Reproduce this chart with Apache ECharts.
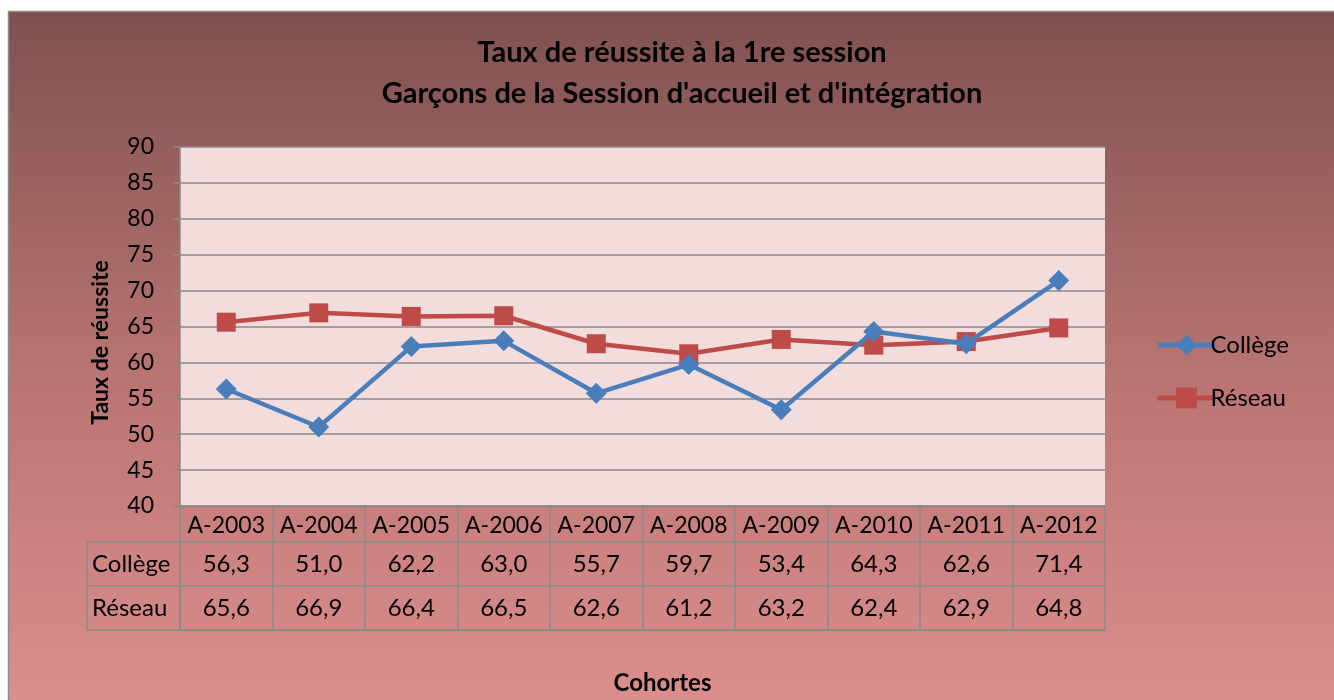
<!DOCTYPE html>
<html><head><meta charset="utf-8">
<script src="https://cdn.jsdelivr.net/npm/echarts@6/dist/echarts.min.js"></script>
<style>html,body{margin:0;padding:0;background:#fff}#c{width:1334px;height:700px}</style>
</head><body><div id="c"></div>
<script>
const categories = ['A-2003','A-2004','A-2005','A-2006','A-2007','A-2008','A-2009','A-2010','A-2011','A-2012'];
const college = [56.3, 51.0, 62.2, 63.0, 55.7, 59.7, 53.4, 64.3, 62.6, 71.4];
const reseau  = [65.6, 66.9, 66.4, 66.5, 62.6, 61.2, 63.2, 62.4, 62.9, 64.8];
const seriesNames = ['Collège', 'Réseau'];
const titleLines = ['Taux de réussite à la 1re session', "Garçons de la Session d'accueil et d'intégration"];
const yName = 'Taux de réussite';
const xName = 'Cohortes';

const FONT = 'Lato, "Open Sans", sans-serif';
const GRIDC = '#8a8a8a';
const fmt = v => v.toFixed(1).replace('.', ',');

const tableData = [];
[college, reseau].forEach((arr, r) => arr.forEach((v, i) => tableData.push([i, seriesNames[r], v])));

const chart = echarts.init(document.getElementById('c'), null, {renderer: 'canvas'});
chart.setOption({
  animation: false,
  backgroundColor: '#fff',
  graphic: [{
    type: 'rect', z: -10, silent: true,
    shape: {x: 8.5, y: 11.5, width: 1330, height: 695},
    style: {
      fill: new echarts.graphic.LinearGradient(0, 0, 0, 1, [
        {offset: 0, color: '#7f5050'},
        {offset: 0.2, color: '#955f5d'},
        {offset: 0.55, color: '#bb7674'},
        {offset: 1, color: '#dc8f8d'}
      ]),
      stroke: '#8c8c8c', lineWidth: 1.5
    }
  }],
  title: {
    text: titleLines.join('\n'),
    left: 677, top: 27, textAlign: 'center',
    textStyle: {fontFamily: FONT, fontWeight: 'bold', fontSize: 29, color: '#000', lineHeight: 41}
  },
  legend: {
    orient: 'vertical', left: 1150, top: 328, itemGap: 29,
    itemWidth: 58, itemHeight: 26,
    lineStyle: {width: 5},
    textStyle: {fontFamily: FONT, fontSize: 24, color: '#000', padding: [0, 0, 0, -10]},
    data: seriesNames
  },
  grid: [
    {left: 180, top: 147, width: 925, height: 359, show: true, backgroundColor: '#f2dddc', borderWidth: 0},
    {left: 180, top: 542, width: 925, height: 88, show: false}
  ],
  xAxis: [{
    gridIndex: 0, type: 'category', data: categories, boundaryGap: true,
    axisLine: {show: true, lineStyle: {color: GRIDC, width: 1.5}},
    axisTick: {show: true, interval: 0, length: 36, lineStyle: {color: GRIDC, width: 1.5}},
    axisLabel: {interval: 0, fontFamily: FONT, fontSize: 23, color: '#000', margin: 8},
    splitLine: {show: false},
    name: xName, nameLocation: 'middle', nameGap: 165,
    nameTextStyle: {fontFamily: FONT, fontWeight: 'bold', fontSize: 24, color: '#000', padding: [0, 0, 0, 40]}
  }, {
    gridIndex: 1, type: 'category', data: categories, boundaryGap: true,
    axisLine: {show: true, lineStyle: {color: GRIDC, width: 1.5}},
    axisTick: {show: false}, axisLabel: {show: false},
    splitLine: {show: true, interval: 0, lineStyle: {color: GRIDC, width: 1.5}}
  }],
  yAxis: [{
    gridIndex: 0, type: 'value', min: 40, max: 90, interval: 5,
    axisLine: {show: true, lineStyle: {color: GRIDC, width: 1.5}},
    axisTick: {show: true, length: 7, lineStyle: {color: GRIDC, width: 1.5}},
    axisLabel: {fontFamily: FONT, fontSize: 23, color: '#000', margin: 26},
    splitLine: {show: true, lineStyle: {color: GRIDC, width: 1.5}},
    name: yName, nameLocation: 'middle', nameGap: 68, nameRotate: 90,
    nameTextStyle: {fontFamily: FONT, fontWeight: 'bold', fontSize: 23, color: '#000', padding: [0, 32, 0, 0]}
  }, {
    gridIndex: 1, type: 'category', data: seriesNames.slice(), inverse: true, boundaryGap: true,
    position: 'left',
    axisLine: {show: true, lineStyle: {color: GRIDC, width: 1.5}},
    axisTick: {show: true, interval: 0, length: 93, lineStyle: {color: GRIDC, width: 1.5}},
    axisLabel: {interval: 0, fontFamily: FONT, fontSize: 24, color: '#000', align: 'left', margin: 88},
    splitLine: {show: true, interval: 0, lineStyle: {color: GRIDC, width: 1.5}}
  }, {
    gridIndex: 1, type: 'category', data: seriesNames.slice(), inverse: true, position: 'left', offset: 93,
    axisLine: {show: true, lineStyle: {color: GRIDC, width: 1.5}},
    axisTick: {show: false}, axisLabel: {show: false}, splitLine: {show: false}
  }],
  series: [{
    name: seriesNames[0], type: 'line', data: college, xAxisIndex: 0, yAxisIndex: 0,
    symbol: 'diamond', symbolSize: 21, color: '#4a7ebb',
    lineStyle: {width: 4.5, color: '#4a7ebb'}, itemStyle: {color: '#4a7ebb'}, z: 3
  }, {
    name: seriesNames[1], type: 'line', data: reseau, xAxisIndex: 0, yAxisIndex: 0,
    symbol: 'rect', symbolSize: 19, color: '#be4b48',
    lineStyle: {width: 4.5, color: '#be4b48'}, itemStyle: {color: '#be4b48'}, z: 2
  }, {
    type: 'scatter', xAxisIndex: 1, yAxisIndex: 1, data: tableData,
    symbolSize: 0, silent: true, itemStyle: {opacity: 1},
    label: {show: true, position: 'inside', fontFamily: FONT, fontSize: 24, color: '#000',
      formatter: p => fmt(p.value[2])}
  }]
});
</script></body></html>
